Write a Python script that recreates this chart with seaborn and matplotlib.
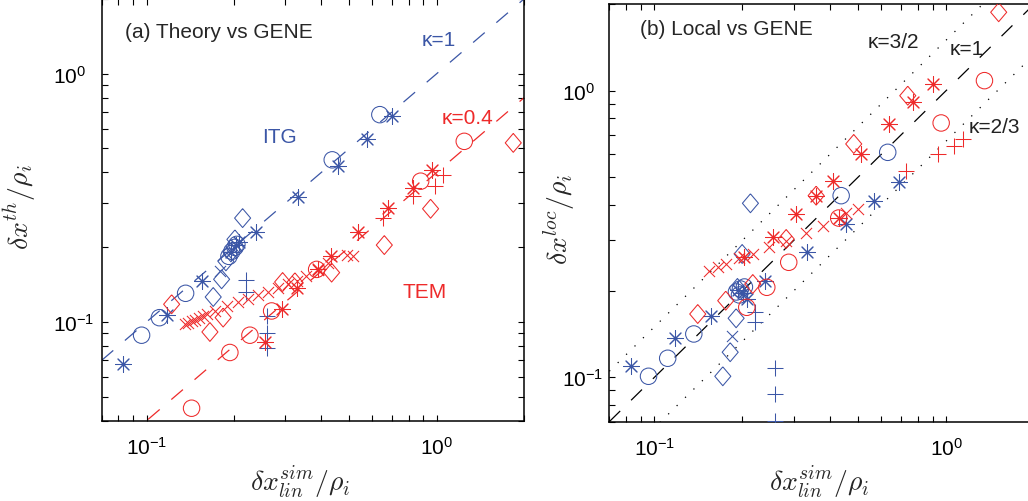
import numpy as np
import matplotlib
matplotlib.use("Agg")
import matplotlib.pyplot as plt
from matplotlib.ticker import NullFormatter, FixedLocator, LogLocator
import seaborn as sns

# ---------------- data: panel (a) Theory vs GENE ----------------
a_itg_circle_x = [0.0961, 0.1107, 0.1363, 0.1922, 0.1968, 0.2016, 0.2048, 0.4365, 0.637]
a_itg_circle_y = [0.0884, 0.104, 0.1304, 0.1837, 0.1925, 0.1997, 0.2053, 0.4498, 0.684]
a_itg_star_x = [0.0832, 0.1172, 0.1548, 0.1953, 0.2032, 0.2081, 0.238, 0.3333, 0.4556, 0.5736, 0.6996]
a_itg_star_y = [0.0679, 0.1064, 0.1462, 0.1907, 0.2034, 0.2091, 0.231, 0.3192, 0.4266, 0.5463, 0.678]
a_itg_diamond_x = [0.1697, 0.1814, 0.1877, 0.1953, 0.2016, 0.2143]
a_itg_diamond_y = [0.126, 0.1485, 0.1754, 0.1907, 0.215, 0.262]
a_itg_plus_x = [0.22, 0.22, 0.2594, 0.2594, 0.2594]
a_itg_plus_y = [0.1476, 0.132, 0.1054, 0.0901, 0.0784]
a_itg_cross_x = [0.179]
a_itg_cross_y = [0.16]

a_tem_circle_x = [0.1429, 0.1937, 0.2271, 0.2698, 0.3857, 0.8807, 1.245]
a_tem_circle_y = [0.0449, 0.0753, 0.0884, 0.1107, 0.1628, 0.369, 0.534]
a_tem_star_x = [0.2558, 0.292, 0.329, 0.39, 0.4311, 0.5366, 0.681, 0.8303, 0.961]
a_tem_star_y = [0.0831, 0.1132, 0.1375, 0.1628, 0.1842, 0.23, 0.2884, 0.347, 0.411]
a_tem_diamond_x = [0.122, 0.1653, 0.1836, 0.2944, 0.3246, 0.4344, 0.66, 0.953, 1.837]
a_tem_diamond_y = [0.1178, 0.0911, 0.1041, 0.1448, 0.1444, 0.158, 0.204, 0.2857, 0.5264]
a_tem_plus_x = [0.6545, 0.8303, 0.9865, 1.054]
a_tem_plus_y = [0.263, 0.321, 0.352, 0.389]
a_tem_cross_x = [0.1355, 0.1393, 0.1433, 0.1473, 0.1515, 0.1563, 0.1614, 0.172, 0.1891, 0.2064,
                 0.2235, 0.2418, 0.262, 0.2836, 0.307, 0.33, 0.3542, 0.3898, 0.4218, 0.4905, 0.5143]
a_tem_cross_y = [0.0979, 0.0993, 0.1007, 0.102, 0.1035, 0.1054, 0.1074, 0.1104, 0.1156, 0.12,
                 0.1234, 0.1281, 0.1317, 0.1366, 0.1418, 0.1458, 0.1527, 0.1614, 0.1722, 0.1854, 0.1837]

# ---------------- data: panel (b) Local vs GENE ----------------
b_itg_circle_x = [0.0954, 0.111, 0.1364, 0.191, 0.1956, 0.1971, 0.2034, 0.4365, 0.6305]
b_itg_circle_y = [0.1008, 0.1165, 0.1416, 0.1984, 0.1937, 0.2032, 0.2065, 0.43, 0.609]
b_itg_star_x = [0.0832, 0.1178, 0.1564, 0.1941, 0.2018, 0.2084, 0.2395, 0.3327, 0.4542, 0.5677, 0.6918]
b_itg_star_y = [0.1093, 0.1368, 0.164, 0.2016, 0.1968, 0.1875, 0.2173, 0.273, 0.3425, 0.413, 0.481]
b_itg_diamond_x = [0.1715, 0.1818, 0.1905, 0.1925, 0.1998, 0.2133]
b_itg_diamond_y = [0.1008, 0.1223, 0.1606, 0.2049, 0.2692, 0.4045]
b_itg_plus_x = [0.2214, 0.2214, 0.2594, 0.2594, 0.2594]
b_itg_plus_y = [0.1685, 0.1563, 0.1077, 0.0875, 0.0702]
b_itg_cross_x = [0.184]
b_itg_cross_y = [0.1396]

b_tem_circle_x = [0.2072, 0.2427, 0.2886, 0.4282, 0.9613, 1.353]
b_tem_circle_y = [0.1754, 0.206, 0.2518, 0.3593, 0.7709, 1.083]
b_tem_star_x = [0.2034, 0.2544, 0.306, 0.3583, 0.4086, 0.4282, 0.5112, 0.6392, 0.7682, 0.8996]
b_tem_star_y = [0.2622, 0.3077, 0.3711, 0.43, 0.485, 0.3593, 0.6009, 0.7647, 0.915, 1.054]
b_tem_diamond_x = [0.1407, 0.1755, 0.2173, 0.2828, 0.3583, 0.4821, 0.7385, 1.514]
b_tem_diamond_y = [0.1662, 0.185, 0.2115, 0.3037, 0.43, 0.6514, 0.9598, 1.876]
b_tem_plus_x = [0.7293, 0.9358, 1.068, 1.14]
b_tem_plus_y = [0.5255, 0.6009, 0.6424, 0.678]
b_tem_cross_x = [0.1543, 0.1648, 0.176, 0.1956, 0.2173, 0.2478, 0.2828, 0.3312, 0.3776, 0.4542, 0.4977]
b_tem_cross_y = [0.2354, 0.2418, 0.2484, 0.2607, 0.2692, 0.2841, 0.2988, 0.3186, 0.3379, 0.3742, 0.3864]

# reference lines  y = kappa * x
a_kappas = [1.0, 0.4]
b_kappas = [1.5, 1.0, 2.0 / 3.0]
tick_values = [0.1, 1.0]
tick_labels = [r"$\mathregular{10^{-1}}$", r"$\mathregular{10^{0}}$"]

# ---------------- style ----------------
sns.set_style("ticks")
plt.rcParams["font.family"] = ["Liberation Sans", "DejaVu Sans"]
plt.rcParams["mathtext.fontset"] = "custom"
plt.rcParams["mathtext.rm"] = "Liberation Sans"
plt.rcParams["mathtext.it"] = "Liberation Sans:italic"
plt.rcParams["mathtext.bf"] = "Liberation Sans:bold"
plt.rcParams["lines.scale_dashes"] = False
plt.rcParams["xtick.direction"] = "in"
plt.rcParams["ytick.direction"] = "in"
plt.rcParams["xtick.major.pad"] = 11
plt.rcParams["ytick.major.pad"] = 35

BLUE = "#3b56a6"
RED = "#ee2a2a"
MW = 0.75
DIAMOND = [(0, 1), (0.85, 0), (0, -1), (-0.85, 0), (0, 1)]
ASTER = (8, 2, 0)
SIZES = {"o": 140, "d": 185, "*": 125, "+": 135, "x": 64}

fig = plt.figure(figsize=(10.28, 5.02), dpi=100)
axA = fig.add_axes([0.0989, 0.16, 0.4108, 0.84])
axB = fig.add_axes([0.5927, 0.158, 0.4131, 0.8315])


def pts(ax, x, y, color, kind):
    if kind == "o":
        sns.scatterplot(x=x, y=y, ax=ax, marker="o", s=SIZES["o"], facecolors="none",
                        edgecolor=color, linewidth=MW, legend=False, zorder=3)
    elif kind == "d":
        sns.scatterplot(x=x, y=y, ax=ax, marker=DIAMOND, s=SIZES["d"], facecolors="none",
                        edgecolor=color, linewidth=MW, legend=False, zorder=3)
    else:
        m = ASTER if kind == "*" else kind
        sns.scatterplot(x=x, y=y, ax=ax, marker=m, s=SIZES[kind], color=color,
                        linewidth=MW, legend=False, zorder=3)


def refline(ax, k, color, ls, xlim):
    xs = np.geomspace(xlim[0], xlim[1], 50)
    sns.lineplot(x=xs, y=k * xs, ax=ax, color=color, linewidth=0.9, linestyle=ls,
                 legend=False, zorder=2)


def style_axes(ax, xlim, ylim, ypad):
    ax.set_xscale("log")
    ax.set_yscale("log")
    ax.set_xlim(*xlim)
    ax.set_ylim(*ylim)
    ax.xaxis.set_minor_locator(LogLocator(base=10, subs=np.arange(2, 10), numticks=20))
    ax.yaxis.set_minor_locator(LogLocator(base=10, subs=np.arange(2, 10), numticks=20))
    ax.xaxis.set_minor_formatter(NullFormatter())
    ax.yaxis.set_minor_formatter(NullFormatter())
    ax.tick_params(which="both", direction="in", top=True, right=True, length=4,
                   width=0.8, color="black", labelsize=15, labelcolor="black")
    ax.tick_params(axis="x", which="major", pad=11)
    ax.tick_params(axis="y", which="major", pad=ypad)
    ax.set_xticks(tick_values, tick_labels)
    ax.set_yticks(tick_values, tick_labels, ha="left")
    for sp in ax.spines.values():
        sp.set_visible(True)
        sp.set_linewidth(1.1)
        sp.set_color("black")
    ax.grid(False)


XLIM = (0.07, 2.0)

# ---------------- panel (a) ----------------
refline(axA, a_kappas[0], BLUE, (0, (11, 11)), XLIM)
refline(axA, a_kappas[1], RED, (0, (11, 11)), XLIM)

pts(axA, a_itg_circle_x, a_itg_circle_y, BLUE, "o")
pts(axA, a_itg_star_x, a_itg_star_y, BLUE, "*")
pts(axA, a_itg_diamond_x, a_itg_diamond_y, BLUE, "d")
pts(axA, a_itg_plus_x, a_itg_plus_y, BLUE, "+")
pts(axA, a_itg_cross_x, a_itg_cross_y, BLUE, "x")
pts(axA, a_tem_circle_x, a_tem_circle_y, RED, "o")
pts(axA, a_tem_star_x, a_tem_star_y, RED, "*")
pts(axA, a_tem_diamond_x, a_tem_diamond_y, RED, "d")
pts(axA, a_tem_plus_x, a_tem_plus_y, RED, "+")
pts(axA, a_tem_cross_x, a_tem_cross_y, RED, "x")

style_axes(axA, XLIM, (0.04, 2.0), 35)

axA.text(0.055, 0.922, "(a) Theory vs GENE", transform=axA.transAxes, fontsize=15, va="center")
axA.text(0.758, 0.905, "κ=1", transform=axA.transAxes, fontsize=15, va="center", color=BLUE)
axA.text(0.38, 0.675, "ITG", transform=axA.transAxes, fontsize=15, va="center", color=BLUE)
axA.text(0.805, 0.72, "κ=0.4", transform=axA.transAxes, fontsize=15, va="center", color=RED)
axA.text(0.713, 0.307, "TEM", transform=axA.transAxes, fontsize=15, va="center", color=RED)

axA.set_xlabel(r"$\delta x_{lin}^{sim}/\rho_i$", fontsize=20, math_fontfamily="cm")
axA.set_ylabel(r"$\delta x^{th}/\rho_i$", fontsize=20, math_fontfamily="cm")
axA.xaxis.set_label_coords(0.47, -0.103)
axA.xaxis.label.set_va("top")
axA.yaxis.set_label_coords(-0.151, 0.51)

# ---------------- panel (b) ----------------
refline(axB, b_kappas[0], "black", (0, (0.9, 7.6)), XLIM)
refline(axB, b_kappas[1], "black", (0, (11, 11)), XLIM)
refline(axB, b_kappas[2], "black", (0, (0.9, 7.6)), XLIM)

pts(axB, b_itg_circle_x, b_itg_circle_y, BLUE, "o")
pts(axB, b_itg_star_x, b_itg_star_y, BLUE, "*")
pts(axB, b_itg_diamond_x, b_itg_diamond_y, BLUE, "d")
pts(axB, b_itg_plus_x, b_itg_plus_y, BLUE, "+")
pts(axB, b_itg_cross_x, b_itg_cross_y, BLUE, "x")
pts(axB, b_tem_circle_x, b_tem_circle_y, RED, "o")
pts(axB, b_tem_star_x, b_tem_star_y, RED, "*")
pts(axB, b_tem_diamond_x, b_tem_diamond_y, RED, "d")
pts(axB, b_tem_plus_x, b_tem_plus_y, RED, "+")
pts(axB, b_tem_cross_x, b_tem_cross_y, RED, "x")

style_axes(axB, XLIM, (0.07, 2.0), 34.3)

axB.text(0.0723, 0.941, "(b) Local vs GENE", transform=axB.transAxes, fontsize=15, va="center")
axB.text(0.609, 0.91, "κ=3/2", transform=axB.transAxes, fontsize=15, va="center", color="#222222")
axB.text(0.802, 0.893, "κ=1", transform=axB.transAxes, fontsize=15, va="center", color="#222222")
axB.text(0.845, 0.706, "κ=2/3", transform=axB.transAxes, fontsize=15, va="center", color="#222222")

axB.set_xlabel(r"$\delta x_{lin}^{sim}/\rho_i$", fontsize=20, math_fontfamily="cm")
axB.set_ylabel(r"$\delta x^{loc}/\rho_i$", fontsize=20, math_fontfamily="cm")
axB.xaxis.set_label_coords(0.494, -0.101)
axB.xaxis.label.set_va("top")
axB.yaxis.set_label_coords(-0.074, 0.486)

fig.savefig("out.png", dpi=100)
